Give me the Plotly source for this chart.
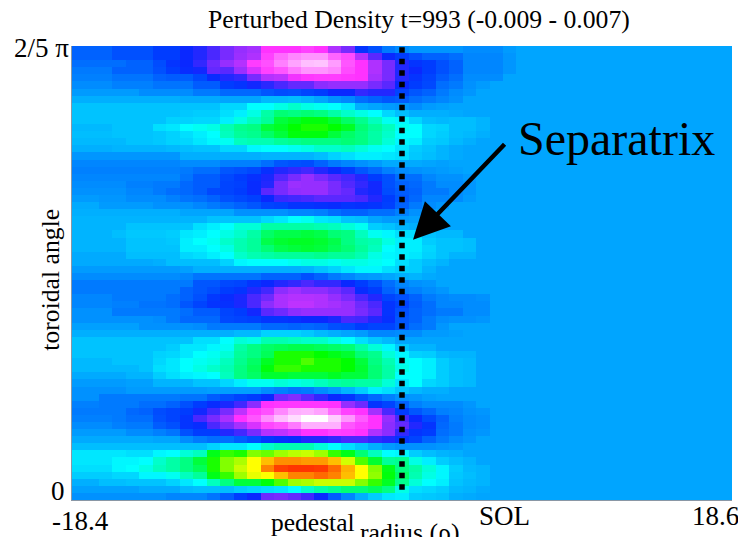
import numpy as np
import plotly.graph_objects as go

# Perturbed density in units of 1e-4, rows listed from the top of the picture,
# columns from the left edge. Columns past the end of a row are in the quiet SOL.
DENSITY_ROWS = [
[-12,-12,-12,-15,-15,-15,-20,-20,-25,-28,-33,-38,-42,-45,-55,-55,-55,-58,-55,-47,-38,-22,-15,-8,-5,-3,-3,-3,-3,-5,-5,-5,-2],
[-12,-12,-12,-15,-15,-15,-20,-20,-25,-28,-33,-38,-43,-47,-58,-66,-70,-72,-72,-65,-60,-48,-35,-25,-20,-15,-12,-12,-10,-6,-6,-6,-3],
[-10,-10,-10,-10,-12,-12,-16,-22,-25,-30,-37,-42,-48,-57,-61,-69,-74,-79,-80,-73,-62,-55,-47,-38,-28,-22,-20,-15,-12,-6,-6,-6,-3],
[-8,-8,-8,-12,-12,-12,-15,-20,-24,-26,-36,-35,-43,-52,-58,-62,-68,-72,-72,-70,-60,-55,-47,-38,-28,-25,-20,-15,-12,-6,-6,-6,-3],
[-7,-7,-7,-9,-9,-9,-12,-13,-13,-17,-24,-28,-30,-38,-48,-50,-54,-56,-57,-57,-56,-55,-45,-38,-28,-22,-18,-13,-10,-5,-5,-5],
[-5,-5,-5,-7,-7,-7,-9,-9,-9,-13,-13,-20,-22,-26,-29,-33,-36,-36,-40,-42,-42,-42,-38,-35,-25,-20,-17,-10,-8,-4,-2],
[-2,-2,-2,-2,-2,-5,-5,-5,-5,-8,-8,-11,-11,-11,-14,-16,-15,-18,-20,-25,-25,-30,-28,-28,-18,-14,-12,-8,-5,-3],
[2,2,2,2,2,2,2,2,1,1,1,0,0,0,4,4,5,3,0,-4,-6,-10,-12,-14,-13,-10,-8,-6,-4],
[6,6,6,6,6,6,6,6,6,6,6,10,10,15,15,17,19,17,16,15,12,2,0,-2,-3,-5,-2,-1],
[6,6,6,6,6,6,6,6,7,8,8,11,13,17,22,26,25,26,25,22,19,17,15,10,5,2,2,2,1],
[6,6,6,6,6,6,6,9,9,10,10,13,17,20,23,30,32,34,34,31,27,24,20,16,14,10,5,4,5,5,3],
[4,4,4,6,6,6,11,12,15,16,17,21,24,25,30,32,35,36,36,35,32,26,23,20,16,15,10,9,5,5,3],
[5,5,5,6,6,6,7,9,11,13,15,20,23,24,27,30,34,34,34,30,27,25,22,19,15,15,10,8,5,4,2],
[4,4,4,4,6,6,7,9,10,12,14,16,20,21,21,23,24,25,25,25,26,25,22,18,14,13,8,7,4,2],
[2,2,2,3,3,3,3,4,5,6,6,10,10,14,15,15,16,17,19,19,20,18,16,15,12,8,6,3,1],
[-3,-3,-3,-3,-3,-3,-3,-3,2,2,2,2,2,2,3,3,3,3,5,9,11,13,13,12,11,7,5,3,1],
[-6,-6,-6,-6,-6,-6,-6,-6,-5,-5,-5,-7,-7,-7,-10,-14,-15,-16,-12,-8,-6,-4,-2,1,1,1,0,-1],
[-7,-7,-7,-7,-7,-7,-7,-7,-8,-10,-10,-14,-15,-17,-23,-28,-30,-32,-28,-25,-20,-14,-11,-7,-5,-4,-3,-2,-1],
[-6,-6,-6,-6,-6,-6,-6,-6,-9,-13,-13,-17,-20,-23,-27,-34,-38,-42,-38,-35,-32,-28,-20,-15,-10,-10,-6,-4,-4,-2],
[-5,-5,-5,-5,-7,-7,-8,-8,-11,-13,-13,-18,-19,-24,-28,-38,-43,-42,-42,-38,-34,-30,-26,-15,-12,-11,-8,-5,-5,-3],
[-4,-4,-4,-4,-6,-6,-8,-10,-11,-13,-17,-18,-20,-24,-35,-38,-41,-42,-42,-38,-36,-28,-26,-16,-13,-12,-8,-8,-5,-3],
[-2,-2,-3,-3,-5,-5,-5,-7,-9,-10,-12,-15,-17,-19,-25,-31,-32,-33,-35,-35,-35,-33,-28,-20,-14,-11,-6,-6,-5,-2],
[1,1,-2,-2,-2,-2,-4,-4,-4,-6,-8,-10,-12,-14,-18,-19,-22,-22,-23,-24,-22,-23,-22,-19,-12,-8,-5,-3],
[2,2,2,2,2,2,2,2,0,0,0,0,-4,-4,-4,-4,-6,-6,-7,-10,-12,-12,-10,-10,-7,-4,-2],
[3,3,3,3,3,3,3,3,3,3,6,6,6,6,10,12,15,16,12,11,6,5,0,-2,-2,-1],
[3,3,3,3,6,6,6,6,6,11,13,15,18,18,22,22,22,22,21,20,18,16,8,6,3,2],
[3,3,3,5,7,7,7,8,12,13,15,17,19,22,27,29,29,30,29,26,25,20,16,14,11,11,6,4,4],
[3,3,3,3,6,6,6,7,13,15,16,19,21,23,29,31,32,32,31,29,25,22,21,17,13,13,8,6,6,5],
[3,3,3,3,6,6,6,6,13,13,15,17,21,23,26,29,30,31,30,28,26,23,20,15,13,13,10,6,6,5],
[1,1,1,1,5,5,5,5,10,11,13,15,19,21,22,23,23,23,24,23,23,21,17,14,13,12,9,6,3,3],
[1,1,1,1,1,1,2,5,5,5,5,9,14,15,15,15,16,17,17,16,17,17,16,15,11,8,5,3],
[-2,-2,-2,-2,-2,-2,-2,-2,-1,2,2,2,2,2,2,2,2,3,6,9,12,14,14,11,9,8,3],
[-5,-5,-5,-5,-5,-5,-5,-5,-6,-9,-9,-9,-9,-9,-12,-12,-12,-15,-12,-8,-6,-3,-2,0,2,3,1],
[-8,-8,-8,-8,-8,-8,-8,-8,-8,-14,-14,-17,-18,-22,-25,-28,-30,-33,-30,-30,-25,-20,-15,-10,-6,-4,-3],
[-8,-8,-8,-8,-8,-8,-8,-8,-12,-14,-16,-20,-22,-28,-32,-40,-44,-40,-40,-38,-35,-24,-20,-12,-8,-7,-5,-3],
[-6,-6,-6,-8,-8,-8,-8,-10,-12,-15,-21,-24,-27,-33,-37,-46,-48,-48,-47,-42,-38,-33,-28,-18,-15,-12,-8,-6,-5,-5,-4],
[-6,-6,-6,-7,-7,-9,-9,-10,-14,-18,-22,-23,-27,-33,-40,-46,-50,-50,-47,-45,-42,-37,-33,-22,-18,-13,-10,-6,-6,-5,-5],
[-4,-4,-4,-8,-8,-8,-8,-8,-10,-13,-13,-18,-20,-26,-35,-37,-40,-42,-42,-42,-42,-38,-35,-22,-15,-12,-10,-8,-8,-5,-5],
[-4,-4,-4,-4,-4,-4,-5,-8,-11,-11,-11,-17,-18,-19,-22,-22,-23,-25,-25,-27,-33,-32,-28,-23,-14,-12,-8,-5,-4,-4,-3],
[-1,-1,-1,-1,-1,-4,-4,-4,-4,-5,-8,-8,-8,-8,-11,-11,-12,-11,-12,-15,-16,-20,-18,-18,-14,-10,-8,-3],
[2,2,2,2,2,2,2,2,2,2,2,2,4,4,9,9,9,7,4,2,0,-2,-6,-6,-5,-5,-2,-2,-1],
[6,6,6,6,6,6,6,6,6,11,11,15,18,17,21,21,20,19,19,17,15,11,7,4,0,0],
[6,6,6,6,6,6,6,8,12,12,14,16,22,25,27,28,29,29,28,27,26,22,18,14,7,3,3],
[6,6,6,6,6,6,9,10,12,15,16,18,23,25,28,36,36,36,35,33,31,26,24,18,14,9,8,4,3,3],
[4,4,4,6,6,6,10,12,15,16,17,20,24,27,32,36,36,38,36,36,35,30,25,21,16,15,13,8,5,4],
[4,4,4,4,4,6,11,12,15,17,19,21,25,28,34,37,37,36,36,36,35,31,26,22,17,15,13,8,5,4],
[1,1,1,1,3,3,8,11,13,14,15,20,25,27,31,31,30,30,30,32,30,30,26,22,15,15,13,8,5,4],
[-2,-2,-2,-2,-1,-1,3,3,3,6,6,10,13,16,16,18,17,18,20,22,23,22,22,18,12,15,10,8,5,4],
[-4,-4,-4,-4,-2,-2,-2,-2,-2,-2,-1,-1,-1,-1,-5,-7,-9,-8,-5,-2,3,8,13,11,7,4,2,2,0],
[-4,-4,-8,-8,-8,-8,-8,-8,-9,-9,-13,-15,-18,-20,-25,-37,-39,-35,-30,-25,-22,-15,-11,-7,-4,-3,-1],
[-7,-7,-8,-8,-8,-10,-10,-12,-15,-20,-24,-27,-32,-40,-55,-56,-56,-56,-56,-55,-42,-37,-22,-18,-12,-7,-5,-5,-5,-3],
[-8,-8,-8,-8,-11,-12,-16,-18,-20,-26,-32,-38,-50,-57,-61,-70,-76,-77,-74,-66,-58,-55,-45,-33,-20,-14,-11,-7,-6,-4,-3],
[-7,-7,-7,-8,-10,-10,-15,-18,-22,-33,-38,-46,-55,-62,-71,-79,-85,-90,-90,-82,-72,-63,-55,-42,-33,-25,-17,-12,-7,-5,-4],
[-5,-5,-5,-7,-8,-8,-13,-15,-22,-24,-33,-38,-45,-52,-59,-62,-68,-76,-76,-76,-62,-58,-55,-40,-36,-28,-22,-11,-8,-5,-4],
[-2,-2,-2,-2,-5,-5,-7,-9,-15,-20,-20,-28,-32,-38,-48,-50,-52,-55,-55,-58,-57,-55,-47,-40,-30,-22,-20,-10,-8,-4,-3],
[1,1,1,1,1,1,0,0,-5,-8,-10,-10,-13,-16,-21,-23,-24,-28,-28,-30,-33,-33,-30,-28,-22,-18,-12,-8,-5,-3],
[5,5,5,5,5,5,5,5,5,5,9,12,12,15,19,21,21,21,18,15,11,7,2,-2,-4,-4,-4,-3,-2],
[12,12,12,12,11,11,14,15,18,20,33,37,36,40,39,42,44,45,42,37,33,26,20,15,14,8,5,3,2],
[12,12,12,14,14,15,19,22,25,30,36,40,43,50,55,59,59,58,58,55,46,38,31,23,24,17,13,8,5,3],
[11,11,11,14,15,17,20,22,25,28,36,40,45,50,60,66,68,68,67,62,56,50,40,33,25,22,18,14,8,4,3],
[8,8,8,10,10,14,14,16,20,23,33,37,42,48,50,55,60,60,62,60,55,50,41,34,27,21,17,14,7,5,3],
[2,2,5,5,6,6,6,9,12,15,20,25,30,30,34,38,42,43,45,45,45,40,37,32,24,18,15,13,6,4,3],
[-1,-1,-1,-1,-1,1,1,1,4,5,5,5,8,10,11,12,15,19,22,24,26,26,28,25,17,11,10,8,4,3,1],
[-4,-4,-4,-4,-4,-4,-4,-6,-6,-6,-9,-13,-20,-25,-37,-38,-36,-32,-25,-13,-6,2,8,12,13,8,7,6,2,1],
]

# Colour key: value (1e-4) and the colour shown at it.
COLOUR_LEVELS = [-90, -85, -75, -65, -55, -50, -40, -35, -30, -25, -20, -15, -10, -5, 0,
                 5, 10, 15, 20, 25, 30, 35, 40, 45, 50, 55, 60, 65, 70]
COLOURS = ["#ffffff", "#ffdcff", "#ffaaff", "#ff64ff", "#ff32ff", "#be32ff", "#8c2dff",
           "#5a28ff", "#3228ff", "#0a28ff", "#003cff", "#0050ff", "#006eff", "#008cff", "#00a5ff",
           "#00beff", "#00d7ff", "#00ffff", "#00ffbe", "#00ff82", "#00ff3c", "#00ff00",
           "#82ff00", "#c8ff00", "#ffff00", "#ffbe00", "#ff8200", "#ff4600", "#ff2800"]

N_COLUMNS = 49
RADIUS_RANGE = [-18.4, 18.6]
SEPARATRIX_RADIUS = 0.1
ANGLE_MAX = 0.4

TITLE = "Perturbed Density t=993 (-0.009 - 0.007)"
FONT = "Liberation Serif"

rows = [r + [0] * (N_COLUMNS - len(r)) for r in DENSITY_ROWS]
z = (np.array(rows[::-1], dtype=float) / 1e4)
x_edges = np.linspace(RADIUS_RANGE[0], RADIUS_RANGE[1], N_COLUMNS + 1)
y_edges = np.linspace(0, ANGLE_MAX, len(rows) + 1)

lo, hi = COLOUR_LEVELS[0], COLOUR_LEVELS[-1]
scale = [[(v - lo) / (hi - lo), c] for v, c in zip(COLOUR_LEVELS, COLOURS)]

fig = go.Figure(go.Heatmap(
    x=x_edges, y=y_edges, z=z, zmin=lo / 1e4, zmax=hi / 1e4,
    colorscale=scale, showscale=False, zsmooth=False,
    hovertemplate="r=%{x:.1f}<br>angle=%{y:.2f}π<br>%{z:.4f}<extra></extra>",
))

fig.add_shape(type="line", xref="x", yref="paper",
              x0=SEPARATRIX_RADIUS, x1=SEPARATRIX_RADIUS, y0=0.997, y1=0.021,
              line=dict(color="black", width=5.5, dash="5.5px,6px"))


def label(text, px, py, size, xanchor="center", yanchor="middle", angle=0):
    fig.add_annotation(text=text, xref="paper", yref="paper",
                       x=(px - 72) / 660, y=(500.5 - py) / 454.5,
                       xanchor=xanchor, yanchor=yanchor, textangle=angle,
                       showarrow=False, font=dict(family=FONT, size=size, color="black"),
                       borderpad=0, borderwidth=0)


label(TITLE, 419, 19, 25.7)
label("2/5 π", 14, 48, 27, xanchor="left")
label("0", 58, 491, 27)
label("-18.4", 80, 522, 27)
label("18.6", 715, 517, 27)
label("pedestal", 313, 523, 25.5)
label("radius (ρ)", 410, 533, 25.8)
label("SOL", 504, 517, 27)
label("toroidal angle", 51, 280, 25.7, angle=-90)
label("Separatrix", 616, 139, 48)

fig.add_annotation(xref="paper", yref="paper",
                   x=(413 - 72) / 660, y=(500.5 - 240) / 454.5,
                   ax=93, ay=-97,
                   text="", showarrow=True, arrowhead=2, arrowsize=1.6, arrowwidth=4.5,
                   arrowcolor="black", standoff=0, startstandoff=0)

fig.update_xaxes(range=RADIUS_RANGE, visible=True, showticklabels=False, ticks="",
                 showgrid=False, zeroline=False, showline=True, linecolor="#8a97a5", linewidth=1)
fig.update_yaxes(range=[0, ANGLE_MAX], visible=True, showticklabels=False, ticks="",
                 showgrid=False, zeroline=False, showline=True, linecolor="#8a97a5", linewidth=1)
fig.update_layout(width=738, height=537, autosize=False,
                  margin=dict(l=72, r=6, t=46, b=36.5, pad=0),
                  paper_bgcolor="white", plot_bgcolor="white", showlegend=False)

fig.write_html("out.html", config={"displayModeBar": False},
               post_script="document.body.style.margin='0';document.documentElement.style.overflow='hidden';")
